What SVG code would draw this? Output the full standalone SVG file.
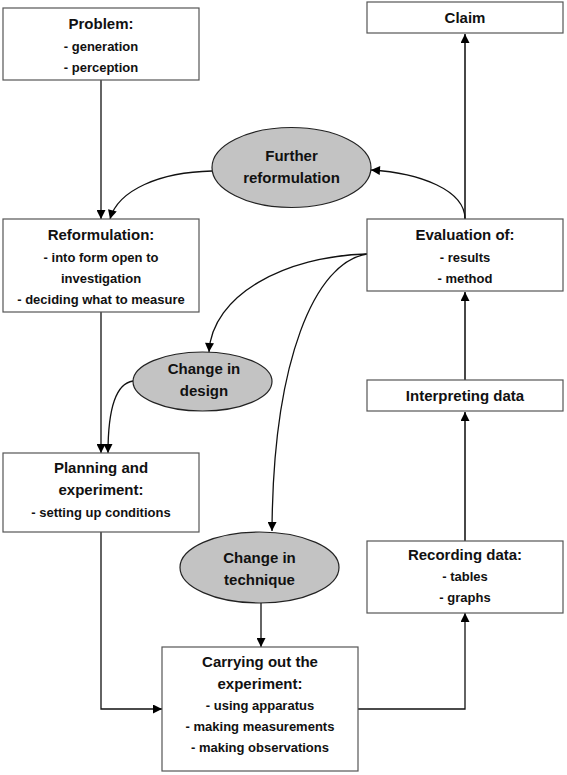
<svg xmlns="http://www.w3.org/2000/svg" width="567" height="775" viewBox="0 0 567 775">
<style>
.box{fill:#fff;stroke:#555;stroke-width:1.2}
.ell{fill:#c3c3c3;stroke:#222;stroke-width:1.2}
.t{font-family:"Liberation Sans",Arial,sans-serif;font-weight:bold;font-size:15px;text-anchor:middle;fill:#111}
.s{font-family:"Liberation Sans",Arial,sans-serif;font-weight:bold;font-size:13px;text-anchor:middle;fill:#111}
.c{fill:none;stroke:#111;stroke-width:1.3;marker-end:url(#ah)}
.c2{fill:none;stroke:#333;stroke-width:1.8;marker-end:url(#ah)}
</style>
<defs>
<marker id="ah" viewBox="0 0 10 10" refX="10" refY="5" markerWidth="10" markerHeight="9" markerUnits="userSpaceOnUse" orient="auto">
<path d="M0,0 L10,5 L0,10 z" fill="#000"/>
</marker>
</defs>
<rect width="567" height="775" fill="#fff"/>
<g id="connectors">
<path class="c" d="M101,80 V219"/>
<path class="c" d="M212,171 C160,172 118,190 110,219"/>
<path class="c2" d="M465,219 V34"/>
<path class="c" d="M465,219 C465,190 420,173 371,170"/>
<path class="c" d="M367,254 C285,256 212,295 209,352"/>
<path class="c" d="M367,254 C315,262 273,360 272,531"/>
<path class="c2" d="M465,380 V292"/>
<path class="c2" d="M465,541 V412"/>
<path class="c" d="M101,312 V453"/>
<path class="c" d="M133,381 C112,384 108,420 108,453"/>
<path class="c" d="M261,603 V647"/>
<path class="c" d="M101,532 V709 H162"/>
<path class="c" d="M358,709 H465 V613"/>
</g>
<g id="problem">
<rect class="box" x="3" y="8" width="196" height="72"/>
<text class="t" x="101" y="29">Problem:</text>
<text class="s" x="101" y="51">- generation</text>
<text class="s" x="101" y="72">- perception</text>
</g>
<g id="claim">
<rect class="box" x="367" y="2" width="196" height="31"/>
<text class="t" x="465" y="23">Claim</text>
</g>
<g id="further-reformulation">
<ellipse class="ell" cx="291.5" cy="167.5" rx="79.5" ry="40"/>
<text class="t" x="291.5" y="161">Further</text>
<text class="t" x="291.5" y="183">reformulation</text>
</g>
<g id="reformulation">
<rect class="box" x="3" y="219" width="196" height="93"/>
<text class="t" x="101" y="240">Reformulation:</text>
<text class="s" x="101" y="262">- into form open to</text>
<text class="s" x="101" y="283">investigation</text>
<text class="s" x="101" y="304">- deciding what to measure</text>
</g>
<g id="evaluation">
<rect class="box" x="367" y="219" width="196" height="72"/>
<text class="t" x="465" y="240">Evaluation of:</text>
<text class="s" x="465" y="262">- results</text>
<text class="s" x="465" y="283">- method</text>
</g>
<g id="change-in-design">
<ellipse class="ell" cx="202.5" cy="381.5" rx="69.5" ry="29.5"/>
<text class="t" x="204" y="374">Change in</text>
<text class="t" x="204" y="396">design</text>
</g>
<g id="interpreting">
<rect class="box" x="367" y="380" width="196" height="31"/>
<text class="t" x="465" y="401">Interpreting data</text>
</g>
<g id="planning">
<rect class="box" x="3" y="453" width="196" height="79"/>
<text class="t" x="101" y="473">Planning and</text>
<text class="t" x="101" y="495">experiment:</text>
<text class="s" x="101" y="517">- setting up conditions</text>
</g>
<g id="change-in-technique">
<ellipse class="ell" cx="259.5" cy="567.5" rx="79.5" ry="35.5"/>
<text class="t" x="259.5" y="563">Change in</text>
<text class="t" x="259.5" y="585">technique</text>
</g>
<g id="recording">
<rect class="box" x="367" y="541" width="196" height="72"/>
<text class="t" x="465" y="560">Recording data:</text>
<text class="s" x="465" y="581">- tables</text>
<text class="s" x="465" y="602">- graphs</text>
</g>
<g id="carrying-out">
<rect class="box" x="162" y="647" width="196" height="124"/>
<text class="t" x="260" y="667">Carrying out the</text>
<text class="t" x="260" y="689">experiment:</text>
<text class="s" x="260" y="710">- using apparatus</text>
<text class="s" x="260" y="731">- making measurements</text>
<text class="s" x="260" y="752">- making observations</text>
</g>
</svg>
